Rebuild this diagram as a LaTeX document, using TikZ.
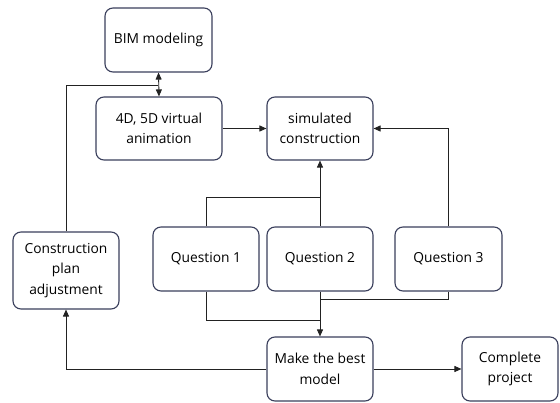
\documentclass[tikz,border=0pt]{standalone}
\usepackage{fontspec}
\setmainfont{Open Sans}
\usetikzlibrary{arrows.meta}
\definecolor{boxline}{HTML}{3A3F5C}
\definecolor{conn}{HTML}{222222}
\tikzset{
  box/.style={draw=boxline, line width=1.1pt, rounded corners=8pt, fill=white, align=center,
    font=\fontsize{13.8}{20.5}\selectfont, inner sep=0pt},
  conn/.style={draw=conn, line width=0.9pt},
  arr/.style={conn, -{Triangle[length=7pt,width=6pt]}},
}
\begin{document}
\begin{tikzpicture}[x=1pt,y=-1pt]
\useasboundingbox (0,0) rectangle (560,403);
\node[box, minimum width=107pt, minimum height=64pt] (bim) at (158.5,40) {BIM modeling};
\node[box, minimum width=126pt, minimum height=63pt] (anim) at (159,128.5) {4D, 5D virtual\\animation};
\node[box, minimum width=106pt, minimum height=63pt] (sim) at (320,128.5) {simulated\\construction};
\node[box, minimum width=106pt, minimum height=77pt] (cpa) at (66,270.5) {Construction\\plan\\adjustment};
\node[box, minimum width=106pt, minimum height=64pt] (q1) at (206,259) {Question 1};
\node[box, minimum width=106pt, minimum height=64pt] (q2) at (320,259) {Question 2};
\node[box, minimum width=107pt, minimum height=64pt] (q3) at (448.5,259) {Question 3};
\node[box, minimum width=106pt, minimum height=64pt] (best) at (320,369) {Make the best\\model};
\node[box, minimum width=96pt, minimum height=64pt] (done) at (510,369) {Complete\\project};
\coordinate (j1) at (66,85);
\coordinate (j2) at (158,85);
% double arrow BIM <-> anim
\draw[conn, {Triangle[length=7pt,width=6pt]}-{Triangle[length=7pt,width=6pt]}] (bim.south) -- (anim.north);
\draw[conn] (cpa.north) -- (j1) -- (j2);
\draw[arr] (anim.east) -- (sim.west);
\draw[arr] (q3.north) |- (sim.east);
\draw[arr] (q2.north) -- (sim.south);
\draw[conn] (q1.north) |- (320,197);
\draw[conn] (q1.south) |- (320,320);
\draw[conn] (q3.south) |- (320,299);
\draw[arr] (q2.south) -- (best.north);
\draw[arr] (best.west) -| (cpa.south);
\draw[arr] (best.east) -- (done.west);
\end{tikzpicture}
\end{document}
